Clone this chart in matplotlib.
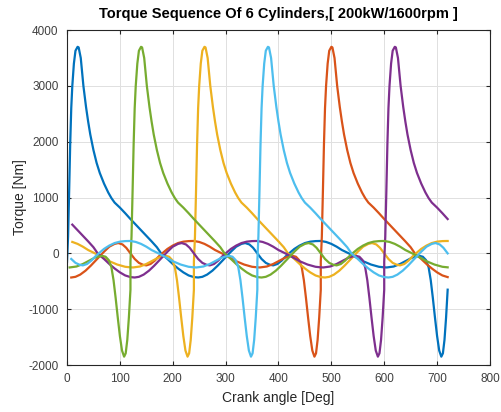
import numpy as np
import matplotlib.pyplot as plt

plt.rcParams['font.family'] = ['Liberation Sans', 'DejaVu Sans']
plt.rcParams['axes.unicode_minus'] = False

# torque of one cylinder over one cycle [deg, Nm]
theta = np.array([0, 2, 4, 6, 8, 10, 13, 16, 20, 22, 26, 31, 36, 40, 44, 50,
                  56, 62, 70, 78, 84, 90, 100, 110, 120, 130, 140, 150, 160,
                  170, 178, 190, 200, 210, 220, 230, 240, 248, 256, 265, 275,
                  285, 295, 305, 310, 320, 330, 337, 345, 352, 360, 368, 376,
                  384, 390, 398, 406, 413, 420, 430, 440, 450, 460, 470, 478,
                  480, 490, 500, 510, 520, 533, 545, 560, 575, 590, 600, 605,
                  618, 630, 642, 652, 660, 667, 673, 679, 684, 688, 692, 696,
                  700, 704, 708, 711, 714, 717, 720])
torque = np.array([-150, 300, 1100, 1950, 2600, 3000, 3400, 3630, 3700, 3690,
                   3500, 3000, 2620, 2360, 2130, 1850, 1620, 1440, 1250, 1090,
                   990, 910, 820, 720, 615, 515, 415, 315, 215, 110, 0, -100,
                   -190, -270, -340, -395, -425, -432, -420, -380, -310, -220,
                   -120, -20, 30, 120, 170, 185, 160, 100, 0, -100, -170, -205,
                   -215, -190, -130, -60, 0, 80, 140, 185, 210, 220, 222, 222,
                   205, 170, 120, 60, 0, -60, -140, -200, -240, -250, -252,
                   -235, -190, -130, -80, -55, -45, -60, -120, -250, -480, -800,
                   -1150, -1480, -1740, -1850, -1790, -1550, -1150, -650])

# cylinder phase offsets [deg], firing order 1-5-3-6-2-4
offsets = [0, 480, 240, 600, 120, 360]
colors = ['#0072BD', '#D95319', '#EDB120', '#7E2F8E', '#77AC30', '#4DBEEE']

fig = plt.figure(figsize=(5.02, 4.12), dpi=100)
ax = fig.add_axes([0.1335, 0.114, 0.8425, 0.813])

for off, c in zip(offsets, colors):
    x = theta + off
    late = x > 720
    xs = np.concatenate([x[late] - 720, x[~late]])
    ys = np.concatenate([torque[late], torque[~late]])
    ax.plot(xs, ys, color=c, lw=1.6)

ax.set_xlim(0, 800)
ax.set_ylim(-2000, 4000)
ax.set_xticks(np.arange(0, 801, 100))
ax.set_yticks(np.arange(-2000, 4001, 1000))
ax.grid(True, color='#e0e0e0', lw=0.7)
ax.set_axisbelow(True)
ax.tick_params(direction='in', length=3, labelsize=8.5, colors='#262626',
               labelcolor='#404040', top=True, right=True,
               labeltop=False, labelright=False, pad=6)
for s in ax.spines.values():
    s.set_color('#262626')
    s.set_linewidth(0.8)

ax.set_xlabel('Crank angle [Deg]', fontsize=10, color='#262626', labelpad=4)
ax.set_ylabel('Torque [Nm]', fontsize=10, color='#262626', labelpad=1)
ax.set_title('Torque Sequence Of 6 Cylinders,[ 200kW/1600rpm ]',
             fontsize=10.5, fontweight='bold', pad=9)

fig.savefig('out.png', dpi=100)
